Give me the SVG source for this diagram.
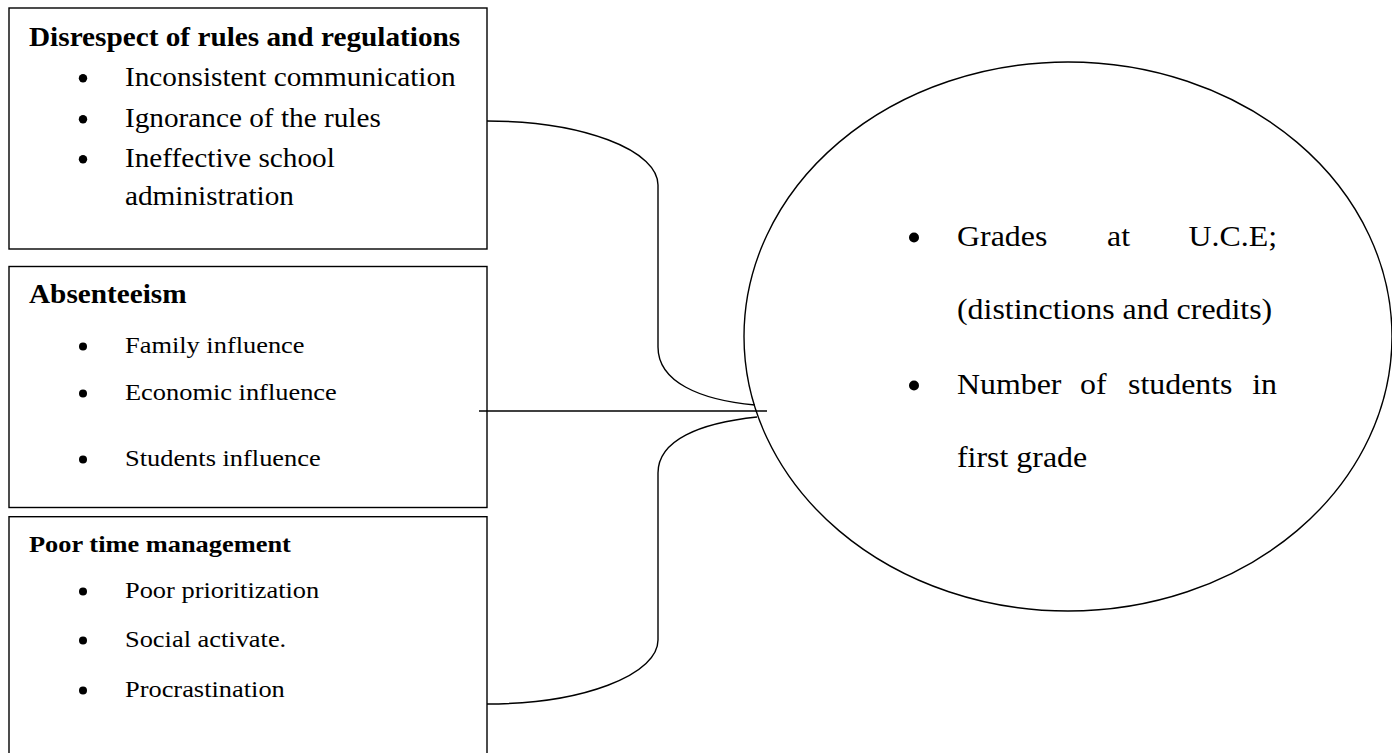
<svg xmlns="http://www.w3.org/2000/svg" width="1392" height="753" viewBox="0 0 1392 753">
<style>
.box{fill:#fff;stroke:#000;stroke-width:1.4}
.conn{fill:none;stroke:#000;stroke-width:1.4}
text{font-family:"Liberation Serif","Times New Roman",serif;fill:#000}
.h1{font-weight:bold;font-size:26.6px}
.h3{font-weight:bold;font-size:24px}
.b1{font-size:26.6px}
.b2{font-size:24px}
.e{font-size:29px}
.end{text-anchor:end}
.dot{fill:#000;stroke:none}
</style>
<rect width="1392" height="753" fill="#fff"/>
<g id="box-rules">
<rect class="box" x="9" y="8" width="478" height="241"/>
<text class="h1" transform="matrix(1.1 0 0 1 29 46)">Disrespect of rules and regulations</text>
<circle class="dot" cx="83" cy="78.3" r="4.2"/>
<text class="b1" transform="matrix(1.1 0 0 1 125 86)">Inconsistent communication</text>
<circle class="dot" cx="83" cy="119.3" r="4.2"/>
<text class="b1" transform="matrix(1.1 0 0 1 125 127)">Ignorance of the rules</text>
<circle class="dot" cx="83" cy="159.3" r="4.2"/>
<text class="b1" transform="matrix(1.1 0 0 1 125 167)">Ineffective school</text>
<text class="b1" transform="matrix(1.1 0 0 1 125 205)">administration</text>
</g>
<g id="box-absenteeism">
<rect class="box" x="9" y="266.5" width="478" height="241"/>
<text class="h1" transform="matrix(1.1 0 0 1 29 303)">Absenteeism</text>
<circle class="dot" cx="83" cy="346.5" r="4"/>
<text class="b2" transform="matrix(1.1 0 0 1 125 353)">Family influence</text>
<circle class="dot" cx="83" cy="393.5" r="4"/>
<text class="b2" transform="matrix(1.1 0 0 1 125 400)">Economic influence</text>
<circle class="dot" cx="83" cy="459.5" r="4"/>
<text class="b2" transform="matrix(1.1 0 0 1 125 466)">Students influence</text>
</g>
<g id="box-time">
<rect class="box" x="9" y="516.7" width="478" height="250"/>
<text class="h3" transform="matrix(1.1 0 0 1 29 552)">Poor time management</text>
<circle class="dot" cx="83" cy="591.5" r="4"/>
<text class="b2" transform="matrix(1.1 0 0 1 125 598)">Poor prioritization</text>
<circle class="dot" cx="83" cy="640.5" r="4"/>
<text class="b2" transform="matrix(1.1 0 0 1 125 647)">Social activate.</text>
<circle class="dot" cx="83" cy="690.5" r="4"/>
<text class="b2" transform="matrix(1.1 0 0 1 125 697)">Procrastination</text>
</g>
<g id="connectors">
<path class="conn" d="M487,121 A171,64 0 0 1 658,185 V347 C658,382 700,400 755,405"/>
<path class="conn" d="M479,411 H767"/>
<path class="conn" d="M757,417 C700,423 658,440 658,473 V640 A171,64 0 0 1 487,704"/>
</g>
<g id="outcome">
<ellipse class="box" cx="1068" cy="336.5" rx="324" ry="274.5" style="fill:none"/>
<circle class="dot" cx="914" cy="237.5" r="5"/>
<text class="e" transform="matrix(1.1 0 0 1 957 246)">Grades</text>
<text class="e" transform="matrix(1.1 0 0 1 1107 246)">at</text>
<text class="e end" transform="matrix(1.1 0 0 1 1277 246)">U.C.E;</text>
<text class="e" transform="matrix(1.1 0 0 1 957 319)">(distinctions and credits)</text>
<circle class="dot" cx="914" cy="385.5" r="5"/>
<text class="e" transform="matrix(1.1 0 0 1 957 394)">Number</text>
<text class="e" transform="matrix(1.1 0 0 1 1080 394)">of</text>
<text class="e" transform="matrix(1.1 0 0 1 1128 394)">students</text>
<text class="e end" transform="matrix(1.1 0 0 1 1277 394)">in</text>
<text class="e" transform="matrix(1.1 0 0 1 957 467)">first grade</text>
</g>
</svg>
